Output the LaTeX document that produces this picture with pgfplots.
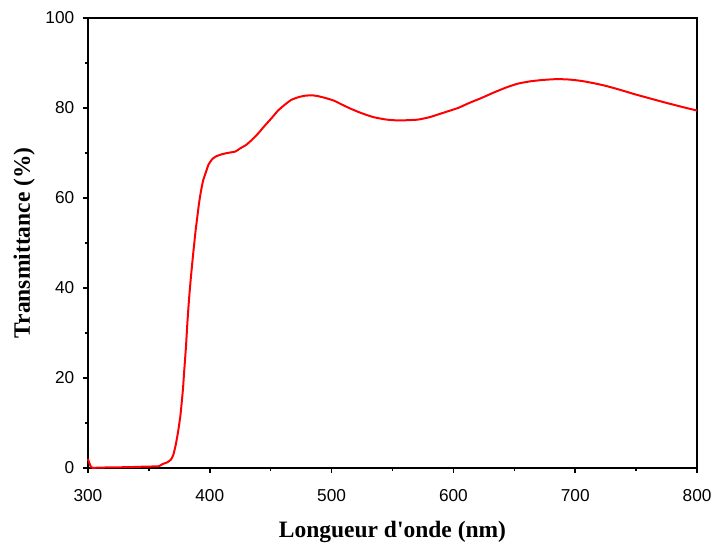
\documentclass[border=0pt]{standalone}
\usepackage{fontspec}
\setmainfont{Liberation Serif}[Ligatures=TeXOff]
\newfontfamily\arial{Liberation Sans}
\usepackage{pgfplots}
\pgfplotsset{compat=1.18}
\begin{document}
\def\px{0.75pt}
\begin{tikzpicture}
\begin{axis}[
  name=ax,
  scale only axis,
  width=612*\px, height=452*\px,
  xmin=300, xmax=800, ymin=0, ymax=100,
  xtick={300,400,...,800}, ytick={0,20,...,100},
  minor xtick={350,450,...,750}, minor ytick={10,30,...,90},
  tick align=outside,
  xtick pos=bottom, ytick pos=left,
  major tick length=5*\px, minor tick length=3*\px,
  every tick/.style={black, line width=1.2pt},
  axis line style={line width=1.5pt},
  /pgf/number format/assume math mode=true,
  ticklabel style={font=\arial\fontsize{13}{15}\selectfont},
  xticklabel style={yshift=-9pt, inner xsep=0pt},
  yticklabel style={xshift=-3pt},
  xlabel={\textbf{Longueur d'onde (nm)}},
  ylabel={\textbf{Transmittance (\%)}},
  label style={font=\fontsize{17.7}{20}\selectfont, inner sep=0pt},
  xlabel style={at={([yshift=-48.5pt]axis description cs:0.5,0)}, anchor=center},
  ylabel style={at={([xshift=-48pt]axis description cs:0,0.5)}, anchor=center},
  clip=false,
]
\addplot[red, line width=1.5pt, smooth, tension=0.3] coordinates {
(300,2.0) (301,1.2) (302.5,0.2) (304,0.0) (310,0.05) (320,0.1) (334,0.15) (345,0.25) (358,0.35)
(361,0.8) (365,1.2) (368,1.8) (370,2.8) (372,5.0) (374,8.0) (376,11.8) (378,17.5) (379,21.4)
(380.5,27) (381.7,32.5) (383,37.5) (384.4,42) (386,46.5) (387.1,49.4) (388.5,53) (389.9,56)
(391.2,58.8) (392.6,61.2) (394.5,63.8) (396.7,65.6) (399,67.4) (402,68.6) (405,69.2) (410,69.7)
(415,70.0) (421,70.3) (425,71) (430,71.8) (435,73) (440,74.4) (445,76) (451,77.8) (456,79.4)
(462,80.8) (467,81.8) (473,82.4) (478,82.7) (484,82.8) (489,82.6) (495,82.2) (502,81.6)
(508,80.8) (515,79.9) (522,79.1) (528,78.5) (535,77.9) (545,77.4) (555,77.2) (565,77.3)
(571,77.4) (580,77.9) (587,78.5) (595,79.2) (604,80.0) (613,81.1) (623,82.2) (633,83.4)
(643,84.5) (653,85.4) (663,85.9) (673,86.2) (685,86.4) (695,86.3) (705,86.0) (715,85.5)
(725,84.9) (737,84.0) (748,83.1) (760,82.2) (775,81.1) (788,80.2) (800,79.4)
};
\end{axis}
\path (ax.south west) ++(-85*\px,-79*\px) rectangle ++(713*\px,549*\px);
\end{tikzpicture}
\end{document}
